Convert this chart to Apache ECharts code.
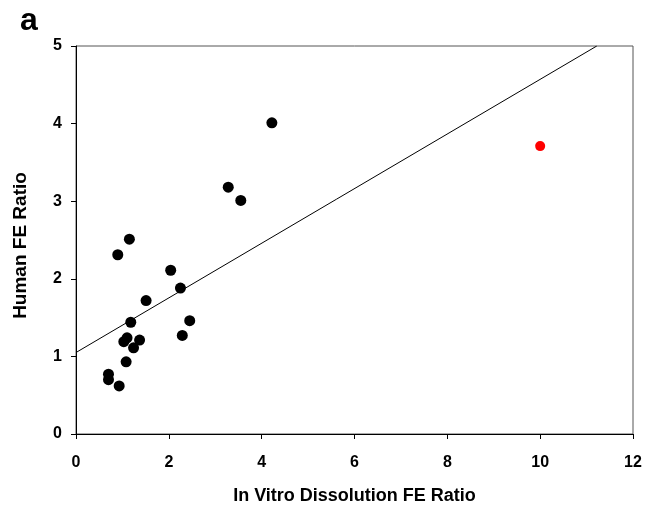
<!DOCTYPE html>
<html>
<head>
<meta charset="utf-8">
<script src="https://cdn.jsdelivr.net/npm/echarts@6/dist/echarts.min.js"></script>
<style>html,body{margin:0;padding:0;background:#fff}#c{width:646px;height:510px}</style>
</head>
<body>
<div id="c"></div>
<script>
var xValues = [4.22, 3.28, 3.55, 1.15, 0.90, 2.04, 2.25, 1.51, 2.45, 1.18, 2.29, 1.10, 1.03, 1.37, 1.24, 1.08, 0.70, 0.70, 0.93];
var yValues = [4.01, 3.18, 3.01, 2.51, 2.31, 2.11, 1.88, 1.72, 1.46, 1.44, 1.27, 1.24, 1.19, 1.21, 1.11, 0.93, 0.77, 0.70, 0.62];
var outlierX = [10.0];
var outlierY = [3.71];
var fitX = [0, 11.22];
var fitY = [1.05, 5.0];
var xTicks = [0, 2, 4, 6, 8, 10, 12];
var yTicks = [0, 1, 2, 3, 4, 5];

function pairs(xs, ys) { return xs.map(function (v, i) { return [v, ys[i]]; }); }

var font = 'Liberation Sans';
var chart = echarts.init(document.getElementById('c'), null, { renderer: 'canvas' });
chart.setOption({
  animation: false,
  backgroundColor: '#fff',
  title: {
    text: 'a', left: 15, top: 0,
    textStyle: { fontFamily: font, fontWeight: 'bold', fontSize: 32, color: '#000' }
  },
  grid: { left: 76, right: 13, top: 46, bottom: 73, show: true, borderColor: '#555', borderWidth: 1, backgroundColor: 'transparent' },
  xAxis: {
    type: 'value', min: xTicks[0], max: xTicks[xTicks.length - 1], interval: 2,
    name: 'In Vitro Dissolution FE Ratio', nameLocation: 'middle', nameGap: 53,
    nameTextStyle: { fontFamily: font, fontWeight: 'bold', fontSize: 18, color: '#000' },
    axisLine: { show: true, lineStyle: { color: '#000', width: 1 } },
    axisTick: { show: true, length: 5, inside: false, lineStyle: { color: '#000' } },
    axisLabel: { margin: 21, fontFamily: font, fontWeight: 'bold', fontSize: 16, color: '#000' },
    splitLine: { show: false }
  },
  yAxis: {
    type: 'value', min: yTicks[0], max: yTicks[yTicks.length - 1], interval: 1,
    name: 'Human FE Ratio', nameLocation: 'middle', nameGap: 46, nameRotate: 90,
    nameTextStyle: { fontFamily: font, fontWeight: 'bold', fontSize: 19, color: '#000', padding: [0, 11, 0, 0] },
    axisLine: { show: true, lineStyle: { color: '#000', width: 1 } },
    axisTick: { show: true, length: 5, inside: false, lineStyle: { color: '#000' } },
    axisLabel: { margin: 14, fontFamily: font, fontWeight: 'bold', fontSize: 16, color: '#000' },
    splitLine: { show: false }
  },
  series: [
    {
      type: 'line', data: pairs(fitX, fitY), showSymbol: false, symbol: 'none',
      lineStyle: { color: '#000', width: 1 }, silent: true, z: 1
    },
    {
      type: 'scatter', data: pairs(xValues, yValues), symbol: 'circle', symbolSize: 11,
      itemStyle: { color: '#000', opacity: 1 }, z: 3
    },
    {
      type: 'scatter', data: pairs(outlierX, outlierY), symbol: 'circle', symbolSize: 10,
      itemStyle: { color: '#ff0000', opacity: 1 }, z: 3
    }
  ]
});
</script>
</body>
</html>
